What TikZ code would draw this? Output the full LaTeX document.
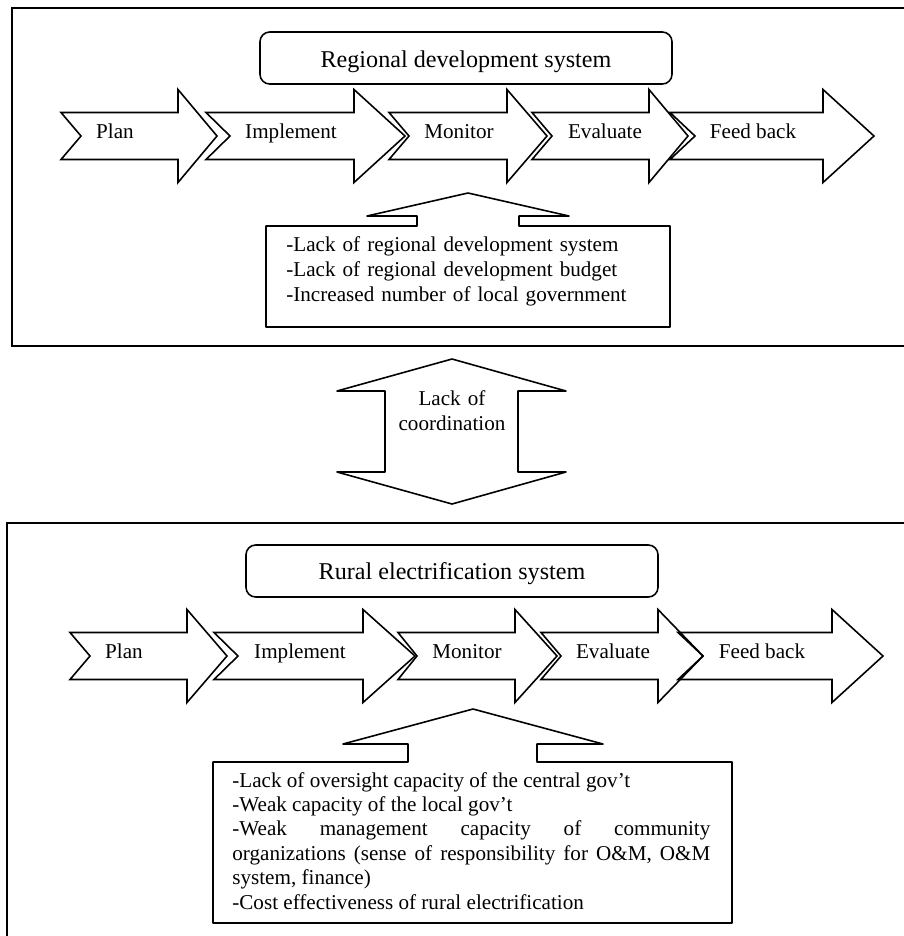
\documentclass[tikz,border=0pt]{standalone}
\usepackage{fontspec}
\setmainfont{Liberation Serif}

% chevron-tailed block arrow: left end, notch tip, head start, head tip, centre line
\newcommand{\flowarrow}[5]{%
  \draw[flow] (#1,#5-23.5) -- (#3,#5-23.5) -- (#3,#5-46.5) -- (#4,#5)
    -- (#3,#5+46.5) -- (#3,#5+23.5) -- (#1,#5+23.5) -- (#2,#5) -- cycle;}

\begin{document}
\begin{tikzpicture}[x=0.568pt,y=-0.568pt,
  frame/.style={draw,line width=1.3pt},
  titlebox/.style={draw,line width=0.9pt,rounded corners=5.5pt},
  flow/.style={draw,line width=0.9pt,line join=miter},
  callout/.style={draw,line width=0.9pt,line join=round},
  lbl/.style={font=\fontsize{12}{14}\selectfont,inner sep=0pt,anchor=base},
  ttl/.style={font=\fontsize{13.7}{16}\selectfont,inner sep=0pt,anchor=base},
  para/.style={font=\fontsize{12}{14.2}\selectfont,inner sep=0pt,anchor=base west},
]
\useasboundingbox (0,0) rectangle (904,936);
\clip (0,0) rectangle (904,936);

% ---------------- regional development system ----------------
\draw[frame] (12,8) rectangle (920,346);
\draw[titlebox] (260,32) rectangle (672,84);
\node[ttl] (rtitle) at (466,67) {Regional development system};

\flowarrow{61}{81}{178}{217}{136}
\flowarrow{206}{230}{354}{405}{136}
\flowarrow{389}{409}{507}{547}{136}
\flowarrow{532}{552}{649}{688}{136}
\flowarrow{670}{695}{823}{874}{136}
\node[lbl] (rplan) at (115,138.5) {Plan};
\node[lbl] (rimpl) at (291,138.5) {Implement};
\node[lbl] (rmon)  at (459,138.5) {Monitor};
\node[lbl] (reval) at (605,138.5) {Evaluate};
\node[lbl] (rfeed) at (753,138.5) {Feed back};

\draw[callout] (266,226) -- (417,226) -- (417,216) -- (367,216) -- (468,193)
  -- (569,216) -- (519,216) -- (519,226) -- (670,226) -- (670,327) -- (266,327) -- cycle;
\node[para,text width=215pt,align=left,font=\fontsize{12}{14.2}\selectfont] (rissues) at (286,251)
  {-Lack of regional development system\\
   -Lack of regional development budget\\
   -Increased number of local government};

% ---------------- coordination link ----------------
\draw[callout] (452,359) -- (566,391) -- (518,391) -- (518,472) -- (566,472)
  -- (452,504) -- (337,472) -- (385,472) -- (385,391) -- (337,391) -- cycle;
\node[lbl,text width=80pt,align=center,font=\fontsize{12}{14.2}\selectfont] (coord) at (452,405)
  {Lack of\\coordination};

% ---------------- rural electrification system ----------------
\draw[frame] (7,523) rectangle (920,950);
\draw[titlebox] (246,545) rectangle (658,597);
\node[ttl] (etitle) at (452,579) {Rural electrification system};

\flowarrow{70}{90}{187}{227}{656}
\flowarrow{214}{238}{363}{415}{656}
\flowarrow{398}{417}{515}{557}{656}
\flowarrow{541}{561}{658}{703}{656}
\flowarrow{678}{703}{832}{883}{656}
\node[lbl] (eplan) at (124,658.5) {Plan};
\node[lbl] (eimpl) at (300,658.5) {Implement};
\node[lbl] (emon)  at (467,658.5) {Monitor};
\node[lbl] (eeval) at (613,658.5) {Evaluate};
\node[lbl] (efeed) at (762,658.5) {Feed back};

\draw[callout] (213,762) -- (408,762) -- (408,744) -- (343,744) -- (473,709)
  -- (603,744) -- (537,744) -- (537,762) -- (732,762) -- (732,923) -- (213,923) -- cycle;
\node[para,text width=271.5pt,align=justify,font=\fontsize{12}{13.9}\selectfont] (eissues) at (232,787)
  {-Lack of oversight capacity of the central gov’t\\
   -Weak capacity of the local gov’t\\
   -Weak management capacity of community\linebreak
   organizations (sense of responsibility for O\&M, O\&M\linebreak
   system, finance)\\
   -Cost effectiveness of rural electrification};
\end{tikzpicture}
\end{document}
